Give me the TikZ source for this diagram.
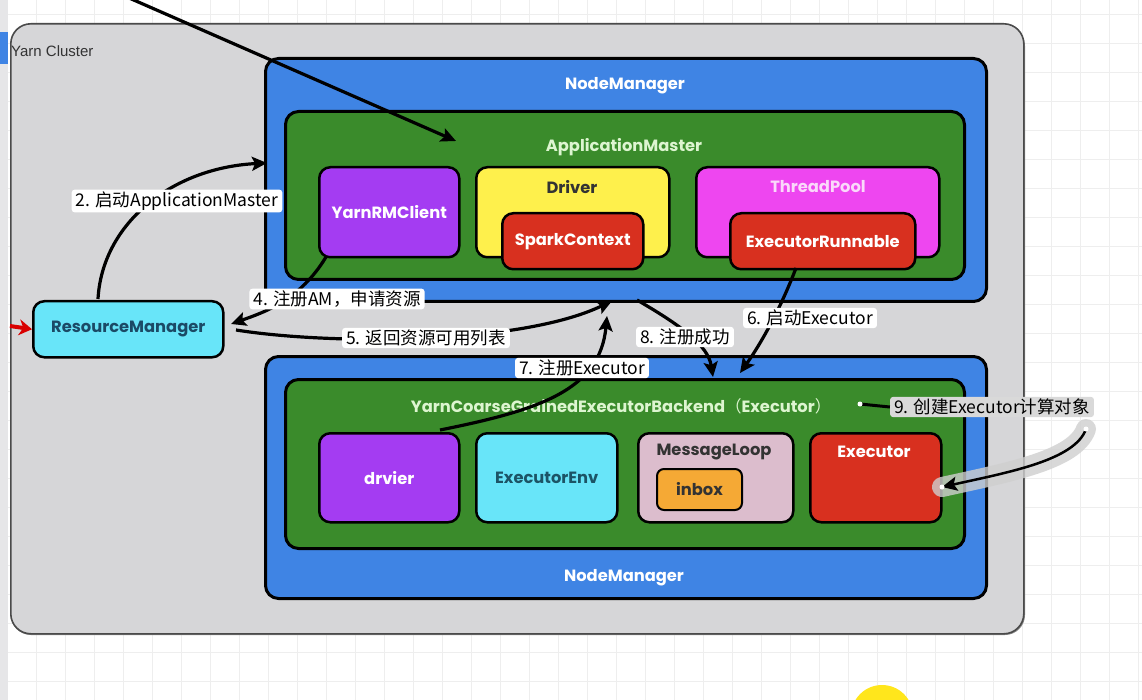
\documentclass[tikz,border=0pt]{standalone}
\usepackage{fontspec}
\setmainfont{Poppins}
\newfontfamily\cjk{Noto Sans CJK SC}
\newfontfamily\arialf{Liberation Sans}
\usetikzlibrary{arrows.meta}
\definecolor{gridc}{HTML}{EEEEEE}
\definecolor{stripc}{HTML}{E6E6E8}
\definecolor{clusterfill}{HTML}{D6D6D8}
\definecolor{clusterline}{HTML}{4A4A4A}
\definecolor{nmblue}{HTML}{3F84E4}
\definecolor{amgreen}{HTML}{3A8B2B}
\definecolor{purp}{HTML}{A43CF2}
\definecolor{yel}{HTML}{FEF04C}
\definecolor{redbox}{HTML}{D8301F}
\definecolor{mag}{HTML}{EE46F0}
\definecolor{cyanbox}{HTML}{68E5F9}
\definecolor{pinkbox}{HTML}{DCBDCD}
\definecolor{orangebox}{HTML}{F5A935}
\definecolor{lightgreentext}{HTML}{DDF5D0}
\definecolor{pinktext}{HTML}{FAD8FA}
\definecolor{darktext}{HTML}{333333}
\definecolor{rmtext}{HTML}{1B4A66}
\definecolor{envtext}{HTML}{1C5466}
\definecolor{halo}{HTML}{CFCFCF}
\definecolor{cursor}{HTML}{FFE61C}
\tikzset{
  box/.style={draw=black, line width=2.5pt, rounded corners=11pt, anchor=north west, inner sep=0pt},
  bigbox/.style={draw=black, line width=3pt, rounded corners=13pt, anchor=north west, inner sep=0pt},
  nodetext/.style={font=\bfseries\fontsize{16.3}{18}\selectfont, inner sep=1pt},
  lbl/.style={fill=white, rounded corners=3pt, inner xsep=4pt, inner ysep=2pt, font=\cjk\fontsize{17.5}{19}\selectfont, text=black},
  arr/.style={line width=3.2pt, -{Stealth[length=15pt,width=14pt,inset=3pt]}},
  dotw/.style={circle, fill=white, inner sep=0pt, minimum size=5pt}
}
\begin{document}
\begin{tikzpicture}[x=1pt,y=-1pt]
\path[use as bounding box] (0,0) rectangle (1142,700);
\clip (0,0) rectangle (1142,700);
\fill[white] (0,0) rectangle (1142,700);
\foreach \gx in {7,36,...,1142} \draw[gridc, line width=0.8pt] (\gx,0) -- (\gx,700);
\foreach \gy in {14,43,...,700} \draw[gridc, line width=0.8pt] (0,\gy) -- (1142,\gy);
\fill[stripc] (0,0) rectangle (8,700);
\fill[nmblue] (0,32) rectangle (8,64);
% cluster
\fill[black!45, rounded corners=20pt] (11,26) rectangle (1025,635);
\node[draw=clusterline, fill=clusterfill, line width=1.6pt, rounded corners=20pt, anchor=north west, minimum width=1013pt, minimum height=610pt, inner sep=0pt] (cluster) at (10,23) {};
\node[anchor=west, font=\arialf\fontsize{15}{17}\selectfont, text=darktext, inner sep=0pt] (yc) at (11,51) {Yarn Cluster};
% top node manager
\node[bigbox, fill=nmblue, minimum width=721pt, minimum height=243pt] (nm1) at (264,57) {};
\node[nodetext, text=white] (nm1l) at (625,86) {NodeManager};
\node[bigbox, fill=amgreen, minimum width=679pt, minimum height=168pt] (am) at (284,110) {};
\node[nodetext, text=lightgreentext] (aml) at (624,147) {ApplicationMaster};
\node[box, fill=purp, minimum width=140pt, minimum height=90pt] (rmc) at (318,166) {};
\node[nodetext, text=white] (rmcl) at (rmc.center) {YarnRMClient};
\node[box, fill=yel, minimum width=193pt, minimum height=90pt] (drv) at (475,166) {};
\node[nodetext, text=darktext] (drvl) at (572,187) {Driver};
\node[box, fill=redbox, minimum width=141pt, minimum height=56pt] (sc) at (501,212) {};
\node[nodetext, text=white] (scl) at (sc.center) {SparkContext};
\node[box, fill=mag, minimum width=243pt, minimum height=90pt] (tp) at (695,166) {};
\node[nodetext, text=pinktext] (tpl) at (818,187) {ThreadPool};
\node[box, fill=redbox, minimum width=185pt, minimum height=56pt] (er) at (729,212) {};
\node[nodetext, text=white] (erl) at (er.center) {ExecutorRunnable};
% resource manager
\node[box, fill=cyanbox, minimum width=190pt, minimum height=56pt] (rm) at (32,300) {};
\node[nodetext, text=rmtext] (rml) at (rm.center) {ResourceManager};
% bottom node manager
\node[bigbox, fill=nmblue, minimum width=721pt, minimum height=242pt] (nm2) at (264,355) {};
\node[nodetext, text=white] (nm2l) at (624,578) {NodeManager};
\node[bigbox, fill=amgreen, minimum width=679pt, minimum height=169pt] (yb) at (284,378) {};
\node[nodetext, text=lightgreentext] (ybl) at (621,406) {YarnCoarseGrainedExecutorBackend{\cjk\mdseries （}Executor{\cjk\mdseries ）}};
\node[box, fill=purp, minimum width=140pt, minimum height=89pt] (dv) at (318,432) {};
\node[nodetext, text=white] (dvl) at (dv.center) {drvier};
\node[box, fill=cyanbox, minimum width=141pt, minimum height=89pt] (env) at (475,432) {};
\node[nodetext, text=envtext] (envl) at (env.center) {ExecutorEnv};
\node[box, fill=pinkbox, minimum width=155pt, minimum height=89pt] (ml) at (637,432) {};
\node[nodetext, text=darktext] (mll) at (714,452) {MessageLoop};
\node[box, fill=orangebox, minimum width=85pt, minimum height=41pt, line width=2pt, rounded corners=7pt] (ib) at (656,468) {};
\node[nodetext, text=darktext] (ibl) at (ib.center) {inbox};
\node[box, fill=redbox, minimum width=131pt, minimum height=89pt] (ex) at (809,432) {};
\node[nodetext, text=white] (exl) at (874,452) {Executor};
% connector end points
\coordinate (a1s) at (120,-6);
\coordinate (a1e) at (456,141);
\coordinate (a2s) at (98,299);
\coordinate (a2e) at (267,163);
\coordinate (a4s) at (326,257);
\coordinate (a4e) at (231,324);
\coordinate (a5s) at (236,330);
\coordinate (a5e) at (612,301);
\coordinate (a7s) at (440,430);
\coordinate (a7e) at (607,316);
\coordinate (a8s) at (637,300);
\coordinate (a8e) at (713,377);
\coordinate (a6s) at (796,268);
\coordinate (a6e) at (740,373);
\coordinate (d9a) at (860,404);
\coordinate (d9b) at (1086,429);
\coordinate (a9e) at (942,487);
\coordinate (redS) at (10,326);
% arrows
\draw[arr] (a1s) -- (a1e);
\draw[arr] (a2s) .. controls (102,225) and (170,168) .. (a2e);
\draw[arr] (a4s) .. controls (300,300) and (265,312) .. (a4e);
\draw[arr] (a5s) .. controls (330,345) and (520,345) .. (a5e);
\draw[arr] (a7s) .. controls (540,410) and (600,390) .. (a7e);
\draw[arr] (a8s) .. controls (680,325) and (708,345) .. (a8e);
\draw[arr] (a6s) .. controls (780,310) and (760,345) .. (a6e);
\draw[red!85!black, line width=4pt, -{Stealth[length=13pt,width=16pt]}] (redS) -- (rm.west);
% labels
\node[lbl] (l2) at (177,201) {2. 启动ApplicationMaster};
\node[lbl] (l4) at (337,299) {4. 注册AM，申请资源};
\node[lbl] (l5) at (426,338) {5. 返回资源可用列表};
\node[lbl] (l6) at (810,318) {6. 启动Executor};
\node[lbl] (l7) at (582,368) {7. 注册Executor};
\node[lbl] (l8) at (685,337) {8. 注册成功};
% step 9
\draw[halo, line width=20pt, line cap=round, opacity=0.8] (d9b) .. controls (1075,460) and (1010,472) .. (a9e);
\node[lbl, fill=halo!80] (l9) at (992,407) {9. 创建Executor计算对象};
\draw[line width=3pt] (d9a) -- (l9.west);
\draw[arr, line width=2.5pt] (d9b) .. controls (1075,460) and (1010,472) .. (a9e);
\node[dotw] (dot1) at (d9a) {};
\node[dotw] (dot2) at (d9b) {};
\node[dotw] (dot3) at (a9e) {};
% cursor highlight
\fill[cursor] (882,716) circle (31);
\end{tikzpicture}
\end{document}
